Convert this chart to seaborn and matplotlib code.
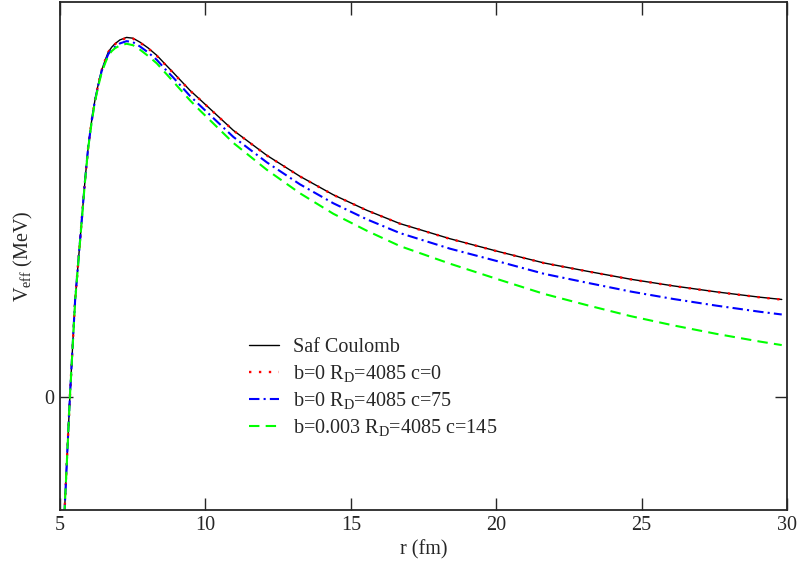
import matplotlib
matplotlib.use("Agg")
import matplotlib.pyplot as plt
import seaborn as sns
import numpy as np
import pandas as pd

# radio (fm)
r = [5.15, 5.34, 5.52, 5.69, 5.86, 5.97, 6.09, 6.20, 6.32, 6.43,
     6.55, 6.66, 6.78, 6.89, 7.06, 7.29, 7.51, 7.75, 8.03, 8.33,
     8.61, 8.89, 9.47, 9.81, 10.96, 12.11, 13.25, 14.40, 15.55, 16.69,
     18.41, 20.13, 21.65, 23.13, 24.63, 26.10, 27.58, 29.07, 29.82]

# potencial efectivo (MeV) de cada curva
v_coulomb = [-10.44, 0.0, 8.58, 13.89, 19.20, 22.15, 24.51, 26.28, 27.76, 28.94,
             29.82, 30.56, 31.00, 31.30, 31.64, 31.86, 31.79, 31.44, 30.93, 30.27,
             29.51, 28.76, 27.17, 26.37, 23.63, 21.42, 19.56, 17.92, 16.55, 15.37,
             14.03, 12.86, 11.88, 11.15, 10.44, 9.85, 9.32, 8.85, 8.65]
v_c0 = [-10.44, 0.0, 8.58, 13.89, 19.20, 22.15, 24.51, 26.28, 27.76, 28.94,
        29.82, 30.56, 30.96, 31.26, 31.60, 31.82, 31.75, 31.40, 30.89, 30.23,
        29.47, 28.72, 27.15, 26.36, 23.62, 21.41, 19.55, 17.91, 16.54, 15.36,
        14.02, 12.85, 11.87, 11.14, 10.43, 9.84, 9.31, 8.84, 8.64]
v_c75 = [-10.44, 0.0, 8.58, 13.89, 19.20, 22.15, 24.47, 26.24, 27.67, 28.85,
         29.69, 30.38, 30.78, 31.03, 31.33, 31.53, 31.44, 31.06, 30.53, 29.87,
         29.07, 28.32, 26.68, 25.84, 23.05, 20.80, 18.85, 17.17, 15.75, 14.53,
         13.15, 11.98, 10.92, 10.13, 9.35, 8.69, 8.10, 7.56, 7.32]
v_c145 = [-10.48, -0.04, 8.49, 13.80, 19.11, 22.06, 24.38, 26.15, 27.58, 28.72,
          29.56, 30.25, 30.65, 30.90, 31.15, 31.30, 31.17, 30.78, 30.22, 29.56,
          28.76, 27.96, 26.29, 25.40, 22.52, 20.14, 18.06, 16.24, 14.74, 13.38,
          11.82, 10.38, 9.14, 8.14, 7.17, 6.35, 5.60, 4.92, 4.61]

labels = ["Saf Coulomb",
          r"b=0 R$_{\rm D}$=4085 c=0",
          r"b=0 R$_{\rm D}$=4085 c=75",
          r"b=0.003 R$_{\rm D}$=4085 c=145"]

sns.set_style("ticks")
plt.rcParams['font.family'] = ['Liberation Serif', 'DejaVu Serif']
plt.rcParams['mathtext.fontset'] = 'custom'
plt.rcParams['mathtext.rm'] = 'Liberation Serif'
plt.rcParams['mathtext.it'] = 'Liberation Serif:italic'

df = pd.DataFrame({"r": r, "Coulomb": v_coulomb, "c0": v_c0,
                   "c75": v_c75, "c145": v_c145})

fig, ax = plt.subplots(figsize=(8.01, 5.65), dpi=100)
fig.subplots_adjust(left=0.0749, right=0.9825, top=0.9965, bottom=0.0973)

estilos = [("Coulomb", "black", "-", 1.0),
           ("c0", "#ff0000", (0, (1, 3.2)), 1.7),
           ("c75", "#0000ff", (0, (5, 2, 1, 2)), 1.5),
           ("c145", "#00ff00", (0, (5, 3)), 1.5)]

for (col, color, ls, lw), lab in zip(estilos, labels):
    sns.lineplot(data=df, x="r", y=col, ax=ax, color=color, linestyle=ls,
                 lw=lw, label=lab, sort=False)

ax.set_xlim(5, 30)
ax.set_ylim(-10, 35)
ax.set_xticks([5, 10, 15, 20, 25, 30])
ax.set_yticks([0])
ax.tick_params(direction="in", length=9, width=1.0, top=True, right=True,
               labelsize=14.5, pad=4)
for s in ax.spines.values():
    s.set_linewidth(1.3)

ax.set_xlabel("r (fm)", fontsize=14.5, labelpad=4)
ax.set_ylabel(r"V$_{\rm eff}$ (MeV)", fontsize=14.5, labelpad=7)

ax.legend(loc="upper left", bbox_to_anchor=(0.235, 0.375), frameon=False,
          fontsize=14.5, handlelength=1.5, handletextpad=0.7,
          labelspacing=0.3)

plt.savefig("out.png", dpi=100)
